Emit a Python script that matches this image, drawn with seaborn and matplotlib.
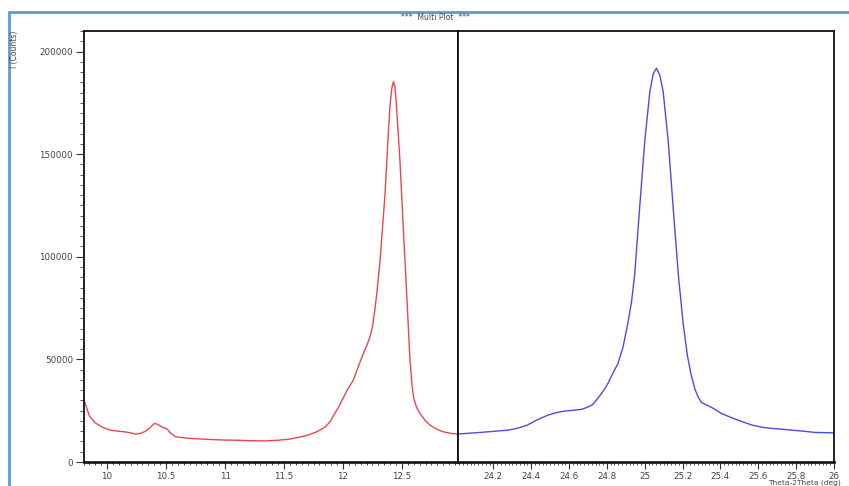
import matplotlib
matplotlib.use("Agg")
import matplotlib.pyplot as plt
from matplotlib.lines import Line2D
from matplotlib.ticker import MultipleLocator, FuncFormatter
import seaborn as sns
import pandas as pd

# Low-angle scan (red)
left_2theta = [9.80, 9.82, 9.85, 9.90, 9.95, 10.00, 10.05, 10.10, 10.15, 10.20,
               10.24, 10.28, 10.32, 10.36, 10.40, 10.43, 10.46, 10.48, 10.51, 10.54,
               10.58, 10.65, 10.70, 10.80, 10.90, 11.00, 11.10, 11.20, 11.34, 11.45,
               11.55, 11.62, 11.70, 11.78, 11.85, 11.89, 11.93, 11.97, 12.00, 12.04,
               12.087, 12.13, 12.172, 12.20, 12.229, 12.25, 12.271, 12.29, 12.314, 12.335,
               12.356, 12.372, 12.384, 12.40, 12.415, 12.428, 12.44, 12.45, 12.462, 12.483,
               12.511, 12.54, 12.568, 12.585, 12.60, 12.625, 12.653, 12.70, 12.737, 12.80,
               12.85, 12.92, 12.975]
left_counts = [31000, 27500, 22500, 19000, 17300, 16000, 15300, 15000, 14700, 14200,
               13600, 13900, 14800, 16500, 18800, 18300, 17200, 16800, 16000, 14000,
               12300, 11800, 11500, 11200, 10900, 10700, 10600, 10400, 10300, 10600,
               11200, 12000, 13000, 14800, 17100, 19600, 23600, 27500, 31000, 35500,
               39800, 46500, 52800, 56500, 61000, 66000, 74500, 84000, 98000, 114000,
               130400, 147000, 160000, 174500, 182500, 185300, 183000, 176500, 165500, 146600,
               114200, 81900, 49500, 37500, 31000, 26500, 23600, 20000, 18000, 15800,
               14700, 13900, 13600]

# High-angle scan (blue)
right_2theta = [24.01, 24.10, 24.17, 24.275, 24.33, 24.38, 24.43, 24.487, 24.53, 24.576,
                24.62, 24.664, 24.70, 24.725, 24.75, 24.78, 24.805, 24.83, 24.858, 24.885,
                24.91, 24.93, 24.947, 24.973, 25.00, 25.027, 25.045, 25.062, 25.08, 25.097,
                25.124, 25.15, 25.177, 25.203, 25.225, 25.245, 25.265, 25.283, 25.30, 25.325,
                25.353, 25.406, 25.48, 25.566, 25.62, 25.67, 25.778, 25.84, 25.90, 26.00]
right_counts = [13600, 14200, 14700, 15500, 16500, 18000, 20500, 22800, 24000, 24800,
                25200, 25600, 26800, 28000, 30800, 34500, 38200, 43000, 47900, 56000,
                67300, 78000, 91600, 124000, 156300, 180600, 189300, 191900, 188300, 180600,
                156300, 124000, 91600, 67300, 52000, 42500, 35500, 31500, 29000, 27800,
                26600, 23600, 20800, 18000, 16900, 16400, 15500, 15000, 14400, 14200]

left_df = pd.DataFrame({"2theta": left_2theta, "counts": left_counts})
right_df = pd.DataFrame({"2theta": right_2theta, "counts": right_counts})

sns.set_theme(style="white")
plt.rcParams["font.family"] = ["DejaVu Sans"]

W, H = 849, 486
fig = plt.figure(figsize=(W / 100, H / 100), dpi=100)
fig.patch.set_facecolor("white")

def fx(px):
    return px / W

def fy(py):
    return 1 - py / H

ax_l = fig.add_axes([fx(83.5), fy(462), fx(458) - fx(83.5), fy(31) - fy(462)])
ax_r = fig.add_axes([fx(458), fy(462), fx(834) - fx(458), fy(31) - fy(462)], sharey=ax_l)

sns.lineplot(data=left_df, x="2theta", y="counts", ax=ax_l, sort=False,
             color="#e8474f", linewidth=1.0)
sns.lineplot(data=right_df, x="2theta", y="counts", ax=ax_r, sort=False,
             color="#4b4be6", linewidth=1.0)

ax_l.set_xlim(9.80, 12.975)
ax_r.set_xlim(24.013, 26.0)
ax_l.set_ylim(0, 210000)

fmt = FuncFormatter(lambda v, p: f"{v:g}")
ax_l.xaxis.set_major_locator(MultipleLocator(0.5))
ax_l.xaxis.set_minor_locator(MultipleLocator(0.05))
ax_r.xaxis.set_major_locator(MultipleLocator(0.2))
ax_r.xaxis.set_minor_locator(MultipleLocator(0.02))
ax_l.yaxis.set_major_locator(MultipleLocator(50000))
ax_l.yaxis.set_minor_locator(MultipleLocator(5000))
ax_l.xaxis.set_major_formatter(fmt)
ax_r.xaxis.set_major_formatter(fmt)
ax_l.yaxis.set_major_formatter(FuncFormatter(lambda v, p: f"{int(v)}"))

for ax in (ax_l, ax_r):
    ax.set_xlabel("")
    ax.set_ylabel("")
    ax.set_facecolor("white")
    for name, sp in ax.spines.items():
        sp.set_visible(True)
        sp.set_color("#111111")
        sp.set_linewidth(1.3)
    ax.spines["bottom"].set_linewidth(1.9)
    ax.tick_params(axis="x", which="major", direction="out", length=5, width=0.8,
                   colors="#333333", labelsize=6.3, labelcolor="#444444", pad=2,
                   bottom=True)
    ax.tick_params(axis="x", which="minor", direction="out", length=2.5, width=0.6,
                   colors="#333333", bottom=True)

ax_l.tick_params(axis="y", which="major", direction="out", length=6, width=0.8,
                 colors="#333333", labelsize=6.3, labelcolor="#444444", pad=1.5, left=True)
ax_l.tick_params(axis="y", which="minor", direction="out", length=3, width=0.6,
                 colors="#333333", left=True)
ax_r.tick_params(axis="y", which="both", left=False, labelleft=False)

# Titles and labels
fig.text(fx(435), fy(18), "***  Multi Plot  ***", ha="center", va="center",
         fontsize=5.5, color="#444444")
fig.text(fx(15), fy(31), "I (Counts)", rotation=90, ha="center", va="top",
         fontsize=5.5, color="#444444")
fig.text(fx(768), fy(479.5), "Theta-2Theta (deg)", ha="left", va="top",
         fontsize=5.4, color="#444444")

# Outer frame
frame_color = "#5b9bd9"
fig.add_artist(Line2D([fx(8.5), fx(8.5)], [0, fy(12)], transform=fig.transFigure,
                      color=frame_color, linewidth=2.0))
fig.add_artist(Line2D([fx(8.5), 1], [fy(12), fy(12)], transform=fig.transFigure,
                      color=frame_color, linewidth=2.0))

fig.savefig("out.png", dpi=100)
